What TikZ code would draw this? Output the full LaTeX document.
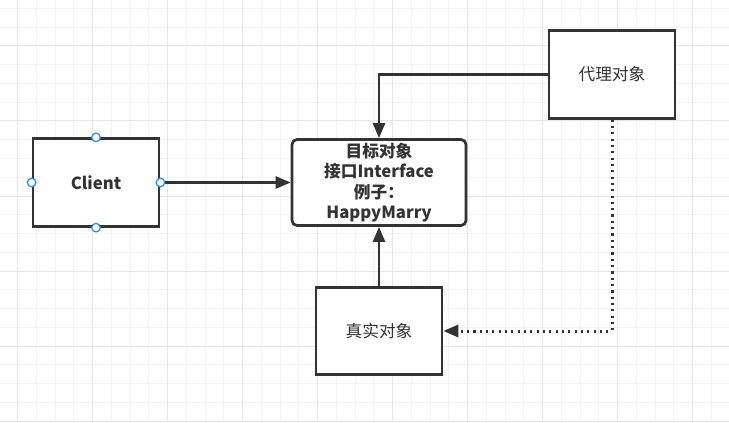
\documentclass[tikz,border=0pt]{standalone}
\usepackage{fontspec}
\setmainfont{Noto Sans CJK SC}
\usetikzlibrary{arrows.meta}
\definecolor{ink}{HTML}{333333}
\definecolor{gridminor}{HTML}{F3F3F3}
\definecolor{gridmajor}{HTML}{E6E6E6}
\definecolor{handleblue}{HTML}{2C8CF4}
\tikzset{
  box/.style={draw=ink, line width=0.055cm, fill=white, text=ink, inner sep=0pt,
    minimum width=2.52cm, minimum height=1.75cm, font=\fontsize{9.5}{11.7}\selectfont},
  target/.style={box, rounded corners=0.1cm, minimum width=3.48cm, minimum height=1.72cm,
    align=center, font=\fontsize{9.5}{11.7}\selectfont\bfseries},
  link/.style={draw=ink, line width=0.05cm},
  handle/.style={draw=handleblue, fill=white, line width=0.025cm}
}
\begin{document}
\begin{tikzpicture}[x=0.02cm, y=-0.02cm, >={Triangle[length=0.3cm,width=0.24cm]}]
        \useasboundingbox [fill=white] (0,0) rectangle (729,422);
        % grid
        \foreach \k in {0,...,37}
            \draw [gridminor, line width=0.02cm] ({17.7+18.75*\k},0)--({17.7+18.75*\k},422);
        \foreach \k in {-2,...,20}
            \draw [gridminor, line width=0.02cm] (0,{46+18.75*\k})--(729,{46+18.75*\k});
        \foreach \k in {0,...,9}
            \draw [gridmajor, line width=0.02cm] ({17.7+75*\k},0)--({17.7+75*\k},422);
        \foreach \k in {0,...,5}
            \draw [gridmajor, line width=0.02cm] (0,{46+75*\k})--(729,{46+75*\k});
        % nodes
        \node [box, font=\fontsize{9.5}{11.7}\selectfont\bfseries] (client) at (96,182.5) {Client};
        \node [target] (tgt) at (379,182.5) {目标对象\\接口Interface\\例子：\\HappyMarry};
        \node [box] (proxy) at (612,74.5) {代理对象};
        \node [box] (real) at (379,331) {真实对象};
        % connectors
        \draw [link, ->] (client) -- (tgt);
        \draw [link, ->] (proxy.west) -| (tgt.north);
        \draw [link, ->] (real) -- (tgt);
        \draw [link, ->, line width=0.06cm, dash pattern=on 1.2pt off 2.4pt] (proxy.south) |- (real.east);
        \foreach \a in {north,south,east,west}
            \draw [handle] (client.\a) circle (4.3);
    \end{tikzpicture}
\end{document}
